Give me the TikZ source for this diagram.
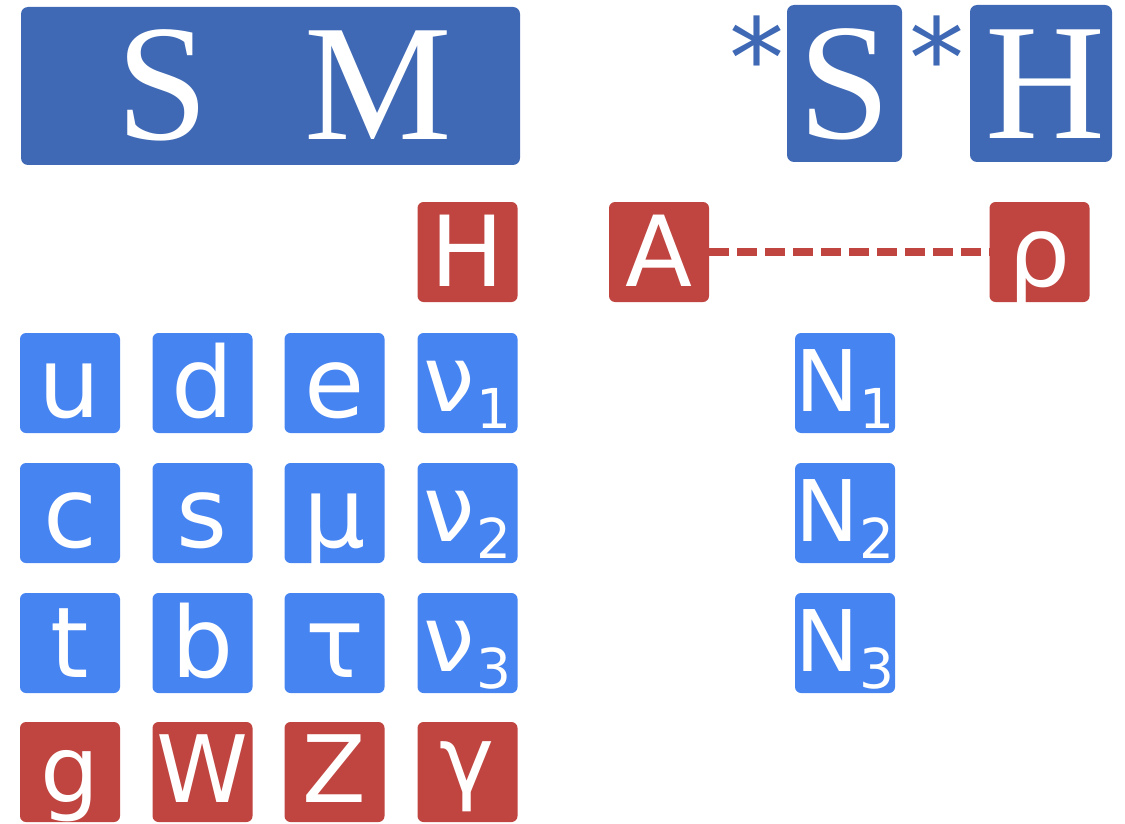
\documentclass[tikz,border=0pt]{standalone}
\usepackage{fontspec}
\newfontfamily\dvsans{DejaVu Sans}
\newfontfamily\bigserif{Liberation Serif}
\definecolor{smblue}{HTML}{3F69B5}
\definecolor{pblue}{HTML}{4684F2}
\definecolor{pred}{HTML}{C0443F}
\newcommand\subsc[2]{{\fontsize{#1}{#1}\selectfont #2}}
\newcommand\lowsub[1]{\kern1pt\raisebox{-17pt}{\fontsize{55}{55}\selectfont #1}}
\tikzset{
  pbox/.style={rectangle, rounded corners=6pt, minimum width=100pt, minimum height=100pt,
    inner sep=0pt, text height=84pt, text depth=16pt, text=white,
    font=\dvsans\fontsize{98}{98}\selectfont},
  fermion/.style={pbox, fill=pblue},
  boson/.style={pbox, fill=pred},
  gaugebox/.style={boson, text height=80pt, text depth=20pt, font=\dvsans\fontsize{93}{93}\selectfont},
  subbox/.style={text height=78pt, text depth=22pt},
  bigbox/.style={rectangle, rounded corners=7pt, fill=smblue, inner sep=0pt},
  bigletter/.style={anchor=base, inner sep=0pt, text=white, font=\bigserif\fontsize{166}{166}\selectfont},
  star/.style={anchor=base, inner sep=0pt, text=smblue, font=\dvsans\fontsize{110}{110}\selectfont},
  link/.style={pred, line width=7.5pt, dash pattern=on 20pt off 8pt}
}
\begin{document}
\begin{tikzpicture}[x=1pt,y=-1pt]
\useasboundingbox (0,0) rectangle (1125,824);
% SM header
\node[bigbox, minimum width=499pt, minimum height=158pt] (smbox) at (270.5,86) {};
\node[bigletter] (smS) at (163,140) {S};
\node[bigletter] (smM) at (378,140) {M};
% *S*H header
\node[star] (star1) at (757,98) {*};
\node[bigbox, minimum width=115pt, minimum height=157pt] (shS) at (844.5,83.5) {};
\node[bigletter] (shSl) at (845,139) {S};
\node[star] (star2) at (937,98) {*};
\node[bigbox, minimum width=142pt, minimum height=157pt] (shH) at (1041,83.5) {};
\node[bigletter] (shHl) at (1045,139) {H};
% scalars
\node[boson] (H) at (467.5,252) {H};
\node[boson] (A) at (659,252) {A};
\node[boson] (rho) at (1039.5,252) {ρ};
\draw[link] (A.east) -- (rho.west);
% fermions
\node[fermion] (u) at (70,383) {u};
\node[fermion] (d) at (202.5,383) {d};
\node[fermion] (e) at (334.5,383) {e};
\node[fermion, subbox] (nu1) at (467.5,383) {\subsc{92}{ν}\lowsub{1}};
\node[fermion] (c) at (70,513) {c};
\node[fermion] (s) at (202.5,513) {s};
\node[fermion] (mu) at (334.5,513) {μ};
\node[fermion, subbox] (nu2) at (467.5,513) {\subsc{92}{ν}\lowsub{2}};
\node[fermion] (t) at (70,643) {t};
\node[fermion] (b) at (202.5,643) {b};
\node[fermion] (tau) at (334.5,643) {τ};
\node[fermion, subbox] (nu3) at (467.5,643) {\subsc{92}{ν}\lowsub{3}};
% gauge bosons
\node[gaugebox] (g) at (70,772) {g};
\node[gaugebox] (W) at (202.5,772) {W};
\node[gaugebox] (Z) at (334.5,772) {Z};
\node[gaugebox] (gamma) at (467.5,772) {\raisebox{10pt}{γ}};
% sterile neutrinos
\node[fermion, subbox] (N1) at (845,383) {\subsc{85}{N}\lowsub{1}};
\node[fermion, subbox] (N2) at (845,513) {\subsc{85}{N}\lowsub{2}};
\node[fermion, subbox] (N3) at (845,643) {\subsc{85}{N}\lowsub{3}};
\end{tikzpicture}
\end{document}
